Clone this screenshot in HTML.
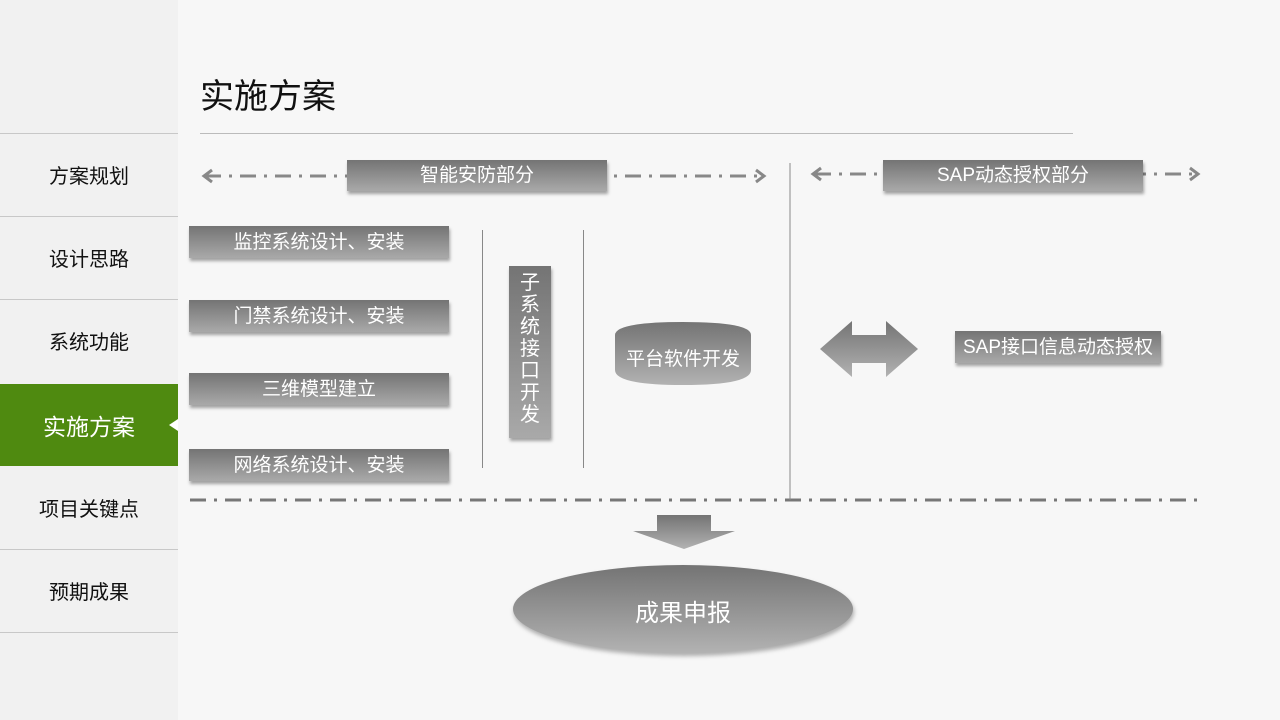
<!DOCTYPE html>
<html><head><meta charset="utf-8"><style>
body{margin:0;width:1280px;height:720px;position:relative;overflow:hidden;font-family:"Liberation Sans","Noto Sans CJK SC",sans-serif;background:#f7f7f7;}
.side{position:absolute;left:0;top:0;width:178px;height:720px;background:#f1f1f1;}
.it{position:absolute;left:0;width:178px;text-align:center;font-size:20px;color:#111;}
.sep{position:absolute;left:0;width:178px;height:1px;background:#c8c8c8;}
.box{position:absolute;background:linear-gradient(#747474,#a9a9a9);color:#fff;text-align:center;box-shadow:1px 3px 3px rgba(0,0,0,.35);font-size:19px;}
.vl{position:absolute;width:1px;background:#888;}
</style></head><body>
<div class="side"></div>
<div class="sep" style="top:133px"></div>
<div class="sep" style="top:216px"></div>
<div class="sep" style="top:299px"></div>
<div class="sep" style="top:549px"></div>
<div class="sep" style="top:632px"></div>
<div class="it" style="top:160px">方案规划</div>
<div class="it" style="top:243px">设计思路</div>
<div class="it" style="top:326px">系统功能</div>
<div style="position:absolute;left:0;top:384px;width:178px;height:82px;background:#4f8a10;"></div>
<div class="it" style="top:408px;color:#fff;font-size:23px">实施方案</div>
<div style="position:absolute;left:169px;top:419px;width:0;height:0;border-top:6px solid transparent;border-bottom:6px solid transparent;border-right:9px solid #fff;"></div>
<div class="it" style="top:493px">项目关键点</div>
<div class="it" style="top:576px">预期成果</div>

<div style="position:absolute;left:200px;top:69px;font-size:34px;color:#111;">实施方案</div>
<div style="position:absolute;left:200px;top:133px;width:873px;height:1px;background:#bbb;"></div>

<svg width="1280" height="720" style="position:absolute;left:0;top:0">
<g stroke="#888" stroke-width="3" stroke-dasharray="16,8,3,8" fill="none">
<line x1="205" y1="176" x2="765" y2="176"/>
<line x1="815" y1="174" x2="1198" y2="174"/>
<line x1="190" y1="500" x2="1202" y2="500" stroke="#777"/>
</g>
<g stroke="#888" stroke-width="3" fill="none">
<polyline points="212,170 204,176 212,182"/>
<polyline points="756,170 764,176 756,182"/>
<polyline points="821,168 813,174 821,180"/>
<polyline points="1190,168 1198,174 1190,180"/>
</g>
<line x1="790" y1="163" x2="790" y2="500" stroke="#888" stroke-width="1"/>
<defs><linearGradient id="g" x1="0" y1="0" x2="0" y2="1"><stop offset="0" stop-color="#747474"/><stop offset="1" stop-color="#b2b2b2"/></linearGradient></defs>
<polygon points="820,349 852,321 852,335 886,335 886,321 918,349 886,377 886,363 852,363 852,377" fill="url(#g)"/>
<polygon points="657,515 711,515 711,531 735,531 684,549 633,531 657,531" fill="url(#g)"/>
<ellipse cx="683" cy="609" rx="170" ry="44" fill="url(#g)" style="filter:drop-shadow(1px 3px 2px rgba(0,0,0,.3))"/>
<path d="M615,335 Q615,322 683,322 Q751,322 751,335 L751,370 Q751,385 683,385 Q615,385 615,370 Z" fill="url(#g)"/>
</svg>
<div class="vl" style="left:482px;top:230px;height:238px"></div>
<div class="vl" style="left:583px;top:230px;height:238px"></div>

<div class="box" style="left:347px;top:160px;width:260px;height:31px;line-height:32px">智能安防部分</div>
<div class="box" style="left:883px;top:160px;width:260px;height:31px;line-height:32px">SAP动态授权部分</div>
<div class="box" style="left:189px;top:226px;width:260px;height:32px;line-height:33px">监控系统设计、安装</div>
<div class="box" style="left:189px;top:300px;width:260px;height:32px;line-height:33px">门禁系统设计、安装</div>
<div class="box" style="left:189px;top:373px;width:260px;height:32px;line-height:33px">三维模型建立</div>
<div class="box" style="left:189px;top:449px;width:260px;height:32px;line-height:33px">网络系统设计、安装</div>
<div class="box" style="left:509px;top:266px;width:42px;height:172px;line-height:22px;padding-top:6px;box-sizing:border-box;font-size:20px">子<br>系<br>统<br>接<br>口<br>开<br>发</div>
<div style="position:absolute;left:615px;top:344px;width:136px;text-align:center;color:#fff;font-size:19px">平台软件开发</div>
<div class="box" style="left:955px;top:331px;width:206px;height:32px;line-height:33px">SAP接口信息动态授权</div>
<div style="position:absolute;left:513px;top:593px;width:340px;text-align:center;color:#fff;font-size:24px">成果申报</div>
</body></html>
